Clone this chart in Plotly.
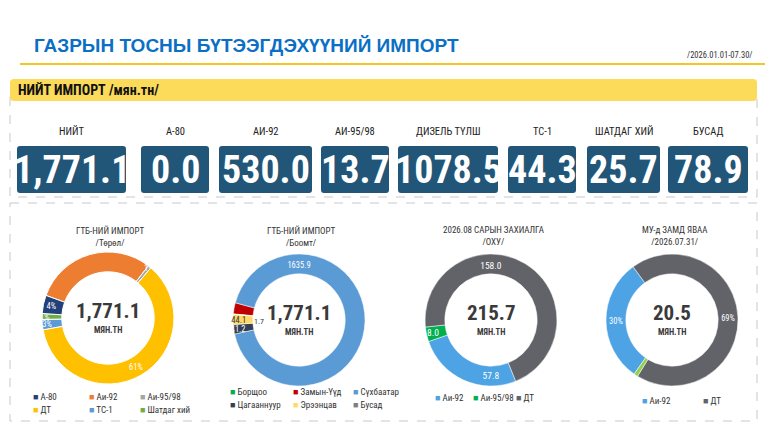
import plotly.graph_objects as go

W, H = 768, 432

# ---- data ----
kpi_labels = ["НИЙТ", "А-80", "АИ-92", "АИ-95/98", "ДИЗЕЛЬ ТҮЛШ", "ТС-1", "ШАТДАГ ХИЙ", "БУСАД"]
kpi_values = [1771.1, 0.0, 530.0, 13.7, 1078.5, 44.3, 25.7, 78.9]

type_labels = ["А-80", "Аи-92", "Аи-95/98", "ДТ", "ТС-1", "Шатдаг хий", "Бусад"]
type_values = [0.0, 530.0, 13.7, 1078.5, 44.3, 25.7, 78.9]

port_labels = ["Борщоо", "Замын-Үүд", "Сүхбаатар", "Цагааннуур", "Эрээнцав", "Бусад"]
port_values = [1.7, 48.2, 1635.9, 41.2, 44.1, 0.0]

order_labels = ["Аи-92", "Аи-95/98", "ДТ"]
order_values = [57.8, 8.0, 158.0]

transit_labels = ["Аи-92", "ДТ", "Аи-95/98"]
transit_values = [6.2, 14.1, 0.2]

center_totals = [1771.1, 1771.1, 215.7, 20.5]
panel_titles = [
    "ГТБ-НИЙ ИМПОРТ<br>/Төрөл/",
    "ГТБ-НИЙ ИМПОРТ<br>/Боомт/",
    "2026.08 САРЫН ЗАХИАЛГА<br>/ОХУ/",
    "МУ-д ЗАМД ЯВАА<br>/2026.07.31/",
]

# ---- styles ----
FONT = "Roboto Condensed, Roboto, sans-serif"
TITLE_FONT = "Liberation Sans, Arial, sans-serif"
type_colors = ["#22407A", "#ED7D31", "#A5A5A5", "#FFC000", "#5B9BD5", "#70AD47", "#22407A"]
port_colors = ["#00B050", "#C00000", "#5B9BD5", "#323F55", "#FFD966", "#7F7F7F"]
order_colors = ["#4DA3E3", "#00B050", "#626369"]
transit_colors = ["#4DA3E3", "#626369", "#92D050"]

kpi_box_x = [(17, 126), (141, 209), (219, 312), (321, 389), (398, 498), (508, 576), (587, 660), (668, 748)]
centers = [(108, 318), (299, 320), (491, 320), (672, 320)]
R = 66


def dom(cx, cy, r=R):
    return dict(x=[(cx - r) / W, (cx + r) / W], y=[1 - (cy + r) / H, 1 - (cy - r) / H])


def rrect(x0, y0, x1, y1, r=3):
    return (f"M{x0+r},{y0} L{x1-r},{y0} Q{x1},{y0} {x1},{y0+r} L{x1},{y1-r} Q{x1},{y1} {x1-r},{y1} "
            f"L{x0+r},{y1} Q{x0},{y1} {x0},{y1-r} L{x0},{y0+r} Q{x0},{y0} {x0+r},{y0} Z")


fig = go.Figure()

# donut 1 - by type
type_text = ["", ""] + ["%{percent:.0%}"] * 5
fig.add_trace(go.Pie(
    labels=type_labels, values=type_values, sort=False, direction="clockwise", rotation=290,
    hole=0.7, domain=dom(*centers[0]), marker=dict(colors=type_colors, line=dict(color="white", width=1)),
    texttemplate=type_text, textposition="inside", insidetextorientation="horizontal",
    textfont=dict(color="white", size=8.5), showlegend=False,
))

# donut 2 - by border port
port_text = ["", "", "%{value:.1f}", "%{value:.1f}", "%{value:.1f}", ""]
fig.add_trace(go.Pie(
    labels=port_labels, values=port_values, sort=False, direction="clockwise", rotation=275,
    hole=0.7, domain=dom(*centers[1]), marker=dict(colors=port_colors, line=dict(color="white", width=0.5)),
    texttemplate=port_text, textposition="inside", insidetextorientation="horizontal",
    textfont=dict(color=["white", "white", "white", "white", "#333333", "white"], size=8.5), showlegend=False,
))

# donut 3 - August order
fig.add_trace(go.Pie(
    labels=order_labels, values=order_values, sort=False, direction="clockwise", rotation=158,
    hole=0.7, domain=dom(*centers[2]), marker=dict(colors=order_colors, line=dict(color="white", width=0.5)),
    texttemplate="%{value:.1f}", textposition="inside", insidetextorientation="horizontal",
    textfont=dict(color="white", size=9.5), showlegend=False,
))

# donut 4 - in transit
fig.add_trace(go.Pie(
    labels=transit_labels, values=transit_values, sort=False, direction="clockwise", rotation=215,
    hole=0.7, domain=dom(*centers[3]), marker=dict(colors=transit_colors, line=dict(color="white", width=0.5)),
    texttemplate=["%{percent:.0%}", "%{percent:.0%}", ""], textposition="inside",
    insidetextorientation="horizontal", textfont=dict(color="white", size=8.5), showlegend=False,
))

shapes = []
ann = []

# header
ann.append(dict(x=32, y=45, text="<b>ГАЗРЫН ТОСНЫ БҮТЭЭГДЭХҮҮНИЙ ИМПОРТ</b>", xanchor="left", yanchor="middle",
                font=dict(size=19, color="#0B6FC4", family=TITLE_FONT)))
ann.append(dict(x=755, y=55, text="/2026.01.01-07.30/", xanchor="right", yanchor="middle",
                font=dict(size=8.5, color="#333333")))
shapes.append(dict(type="line", x0=20, x1=765, y0=64, y1=64, line=dict(color="#F3C623", width=2)))

# KPI section
shapes.append(dict(type="rect", x0=10, x1=757, y0=90, y1=197, line=dict(color="#C8C8C8", width=1, dash="dash")))
shapes.append(dict(type="path", path=rrect(10, 79, 757, 101, 4), fillcolor="#FCDA5A", line=dict(width=0)))
ann.append(dict(x=16, y=90, text="<b>НИЙТ ИМПОРТ</b> <b>/мян.тн/</b>", xanchor="left", yanchor="middle",
                font=dict(size=14, color="#111111")))
for i, (lab, val) in enumerate(zip(kpi_labels, kpi_values)):
    x0, x1 = kpi_box_x[i]
    shapes.append(dict(type="path", path=rrect(x0, 146, x1, 193, 3), fillcolor="#215679", line=dict(width=0)))
    txt = f"{val:,.1f}" if i == 0 else f"{val:.1f}"
    ann.append(dict(x=(x0 + x1) / 2, y=131, text=lab, xanchor="center", yanchor="middle",
                    font=dict(size=10.5, color="#222222")))
    ann.append(dict(x=(x0 + x1) / 2, y=170, text=f"<b>{txt}</b>", xanchor="center", yanchor="middle",
                    font=dict(size=38, color="white")))

# donut section
shapes.append(dict(type="rect", x0=10, x1=757, y0=203, y1=421, line=dict(color="#C8C8C8", width=1, dash="dash")))
for i, (cx, cy) in enumerate(centers):
    ann.append(dict(x=cx + 2, y=236, text=panel_titles[i], xanchor="center", yanchor="middle",
                    font=dict(size=9, color="#333333")))
    ann.append(dict(x=cx, y=cy - 7, text=f"<b>{center_totals[i]:,.1f}</b>", xanchor="center", yanchor="middle",
                    font=dict(size=21, color="#3A3A3A")))
    ann.append(dict(x=cx, y=cy + 12, text="<b>МЯН.ТН</b>", xanchor="center", yanchor="middle",
                    font=dict(size=8.5, color="#3A3A3A")))

# outside label for the tiny Борщоо slice
ann.append(dict(x=259, y=321, text=f"{port_values[0]:.1f}", xanchor="center", yanchor="middle",
                font=dict(size=8, color="#333333")))


def legend(labels, colors, xs, ys):
    for k, (lab, col) in enumerate(zip(labels, colors)):
        ann.append(dict(x=xs[k % len(xs)], y=ys[k // len(xs)], xanchor="left", yanchor="middle",
                        text=f"<span style='color:{col}'>■</span> {lab}", font=dict(size=9, color="#333333")))


legend(type_labels[:6], type_colors[:6], [31, 87, 138], [397, 410])
legend(port_labels, port_colors, [228, 291, 351], [392, 405])
legend(order_labels, order_colors, [433, 471, 514], [398])
legend(transit_labels[:2], transit_colors[:2], [640, 701], [401])

for a in ann:
    a.update(xref="x", yref="y", showarrow=False)
for s in shapes:
    s.update(xref="x", yref="y", layer="below")

fig.update_layout(
    width=W, height=H, autosize=False,
    margin=dict(l=0, r=0, t=0, b=0),
    paper_bgcolor="white", plot_bgcolor="white",
    font=dict(family=FONT, color="#333333"),
    xaxis=dict(range=[0, W], visible=False, fixedrange=True),
    yaxis=dict(range=[H, 0], visible=False, fixedrange=True),
    shapes=shapes, annotations=ann,
    uniformtext=dict(minsize=8.5, mode="show"),
)

fig.write_html("out.html", config={"displayModeBar": False},
               post_script="document.body.style.margin='0';")
